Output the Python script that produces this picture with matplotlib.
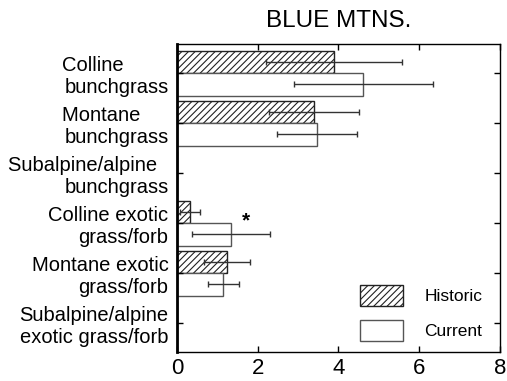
import numpy as np
import matplotlib
matplotlib.use("Agg")
import matplotlib.pyplot as plt

plt.rcParams['font.family'] = ['Liberation Sans', 'DejaVu Sans']
plt.rcParams['hatch.linewidth'] = 0.8

# categorias (saltos de linea y espacios como en la figura original)
categorias = [
    "Colline        \nbunchgrass",
    "Montane     \nbunchgrass",
    "Subalpine/alpine  \nbunchgrass",
    "Colline exotic\ngrass/forb",
    "Montane exotic\ngrass/forb",
    "Subalpine/alpine\nexotic grass/forb",
]
historico = [3.89, 3.40, 0.0, 0.32, 1.25, 0.0]
historico_err = [1.68, 1.12, 0.0, 0.24, 0.57, 0.0]
actual = [4.62, 3.47, 0.0, 1.34, 1.15, 0.0]
actual_err = [1.73, 0.98, 0.0, 0.96, 0.39, 0.0]
xticks = [0, 2, 4, 6, 8]

fig = plt.figure(figsize=(5.07, 3.81), dpi=100)
ax = fig.add_axes([0.349, 0.076, 0.637, 0.8085])

y = np.arange(len(categorias))
alto = 0.45

ax.barh(y - alto / 2, historico, height=alto, color='white', edgecolor='#222222',
        hatch='/////', linewidth=1.0, label='Historic')
ax.barh(y + alto / 2, actual, height=alto, color='white', edgecolor='#555555',
        linewidth=1.0, label='Current')

for vals, errs, off in [(historico, historico_err, -alto / 2), (actual, actual_err, alto / 2)]:
    for yi, v, e in zip(y, vals, errs):
        if v > 0:
            ax.errorbar(v, yi + off, xerr=e, fmt='none', ecolor='#333333',
                        elinewidth=1.0, capsize=2.2, capthick=1.0)

ax.text(1.72, 2.95, '*', fontsize=15, ha='center', va='center', fontweight='bold')

ax.set_xlim(0, 8)
ax.set_ylim(len(categorias) - 0.42, -0.58)
ax.set_xticks(xticks)
ax.set_xticklabels([str(t) for t in xticks], fontsize=16)
ax.set_yticks(y)
ax.set_yticklabels(categorias, fontsize=14.5, linespacing=1.2, ha='right')
ax.tick_params(direction='in', length=4, width=1, top=True, right=True, pad=6)
ax.tick_params(axis='x', pad=4)
for s in ax.spines.values():
    s.set_linewidth(1.0)
ax.spines['left'].set_linewidth(2.0)

ax.set_title('BLUE MTNS.', fontsize=17.5, pad=12)

ax.legend(loc='lower left', bbox_to_anchor=(0.567, 0.035), frameon=False,
          fontsize=12.5, handlelength=2.5, handleheight=1.5, labelspacing=0.8,
          handletextpad=1.2, borderpad=0, borderaxespad=0)

fig.savefig('out.png', dpi=100)
